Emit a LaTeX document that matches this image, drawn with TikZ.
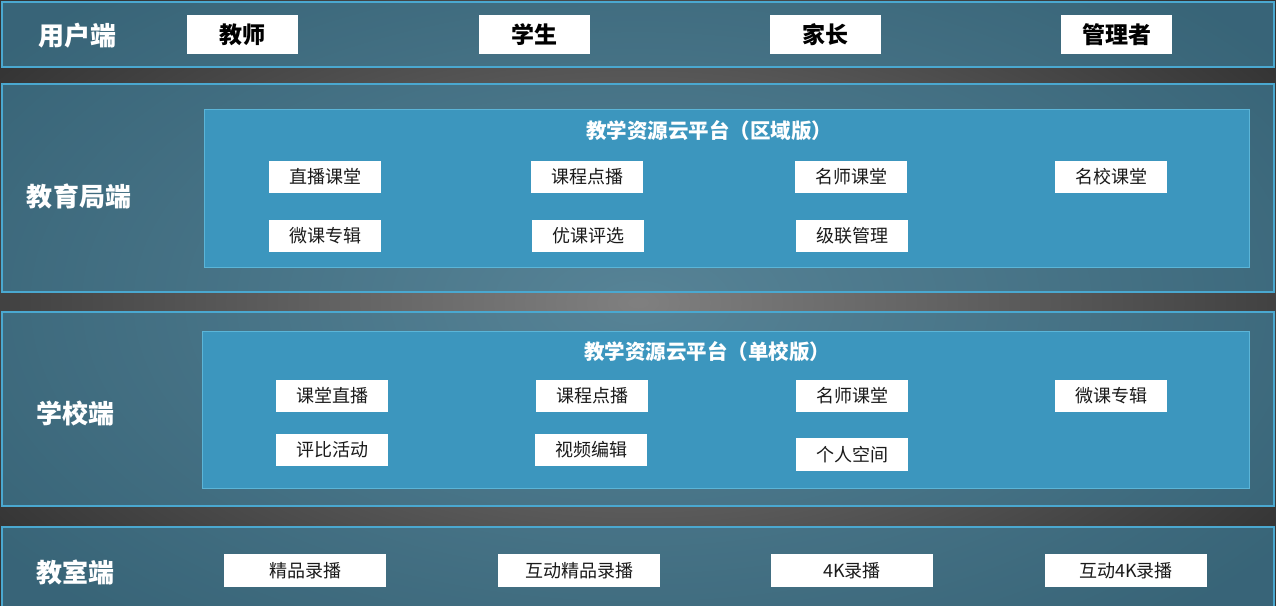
\documentclass[tikz,border=0pt]{standalone}
\usepackage{fontspec}
\setmainfont{Noto Sans CJK SC}
\definecolor{bandfill}{HTML}{3C86A6}
\definecolor{bandline}{HTML}{4AA8D0}
\definecolor{panelfill}{HTML}{3C96BE}
\definecolor{panelline}{HTML}{5BB5D8}
\definecolor{txt}{HTML}{1A1A1A}
\tikzset{
  band/.style={draw=bandline, line width=1.5pt, fill=bandfill, fill opacity=0.6, draw opacity=1},
  panel/.style={draw=panelline, line width=1pt, fill=panelfill},
  role/.style={fill=white, text=black, font=\bfseries\fontsize{23}{26}\selectfont, minimum width=111pt, minimum height=39pt, inner sep=0pt},
  item/.style={fill=white, text=txt, font=\fontsize{18}{20}\selectfont, minimum width=112pt, minimum height=32pt, inner sep=0pt},
  wide/.style={item, minimum width=162pt, minimum height=33pt},
  label/.style={text=white, font=\bfseries\fontsize{26}{28}\selectfont, inner sep=0pt},
  ptitle/.style={text=white, font=\bfseries\fontsize{20.5}{22}\selectfont, inner sep=0pt}
}
\begin{document}
\begin{tikzpicture}[x=1pt,y=-1pt]
\useasboundingbox (0,0) rectangle (1276,605);
\begin{scope}
\clip (0,0) rectangle (1276,605);
\shade[inner color=black!50, outer color=black!80] (-150,-120) rectangle (1426,725);
\end{scope}
% bands
\path[band] (2,2) rectangle (1274,67);
\path[band] (2,84) rectangle (1274,292);
\path[band] (2,312) rectangle (1274,506);
\path[band] (2,527) rectangle (1274,612);
% panels
\path[panel] (204,109) rectangle (1249,267);
\path[panel] (202,331) rectangle (1249,488);
% band 1
\node[label] (l1) at (77,36) {用户端};
\node[role] (r1) at (242.5,34.5) {教师};
\node[role] (r2) at (534,34.5) {学生};
\node[role] (r3) at (825.5,34.5) {家长};
\node[role] (r4) at (1116.5,34.5) {管理者};
% band 2
\node[label] (l2) at (79,196) {教育局端};
\node[ptitle] (t2) at (709,131) {教学资源云平台（区域版）};
\node[item] (a1) at (325,177) {直播课堂};
\node[item] (a2) at (587,177) {课程点播};
\node[item] (a3) at (851,177) {名师课堂};
\node[item] (a4) at (1111,177) {名校课堂};
\node[item] (a5) at (325,236) {微课专辑};
\node[item] (a6) at (588,236) {优课评选};
\node[item] (a7) at (852,236) {级联管理};
% band 3
\node[label] (l3) at (75,413) {学校端};
\node[ptitle] (t3) at (707,352) {教学资源云平台（单校版）};
\node[item] (b1) at (332,396) {课堂直播};
\node[item] (b2) at (592,396) {课程点播};
\node[item] (b3) at (852,396) {名师课堂};
\node[item] (b4) at (1111,396) {微课专辑};
\node[item] (b5) at (332,450) {评比活动};
\node[item] (b6) at (591,450) {视频编辑};
\node[item, minimum height=33pt] (b7) at (852,454.5) {个人空间};
% band 4
\node[label] (l4) at (75,572) {教室端};
\node[wide] (c1) at (305,570.5) {精品录播};
\node[wide] (c2) at (579,570.5) {互动精品录播};
\node[wide] (c3) at (852,570.5) {4K录播};
\node[wide] (c4) at (1126,570.5) {互动4K录播};
\end{tikzpicture}
\end{document}
